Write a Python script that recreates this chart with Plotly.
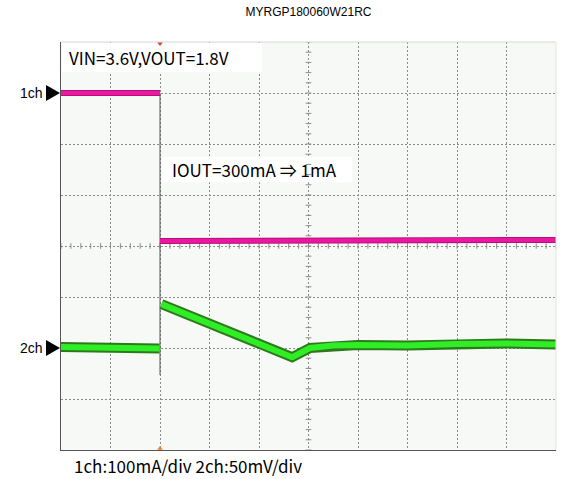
import plotly.graph_objects as go

# Screen is 10 horizontal x 8 vertical divisions; levels below are in divisions.
X_DIVS = 10
Y_DIVS = 8
EDGE_X = 2.0  # load step position (div)

# ch1: output current (100 mA/div), before and after the step
ch1_x = [0.0, 1.0, 2.0, None, 2.0, 4.0, 6.0, 8.0, 10.0]
ch1_y = [7.0, 7.0, 7.0, None, 4.10, 4.10, 4.11, 4.12, 4.12]

# ch2: output voltage ripple (50 mV/div)
ch2_x = [0.0, 1.0, 1.99, None, 2.03, 2.5, 3.0, 3.5, 4.0, 4.35, 4.67, 5.03, 5.5, 6.0, 7.0, 8.0, 9.0, 10.0]
ch2_y = [2.02, 2.01, 1.99, None, 2.86, 2.67, 2.47, 2.28, 2.08, 1.95, 1.82, 2.00, 2.05, 2.06, 2.05, 2.08, 2.09, 2.07]

# thin vertical edge drawn at the step
edge_y = [7.0, 1.47]

ch1_ref = 7.0
ch2_ref = 2.0

title = "MYRGP180060W21RC"
cond_text = "VIN=3.6V,VOUT=1.8V"
step_text = "IOUT=300mA ⇒ 1mA"
scale_text = "1ch:100mA/div 2ch:50mV/div"

label_font = "Noto Sans CJK JP"

fig = go.Figure()

# small ticks along the centre cross-hair
cx = [X_DIVS / 2] * (Y_DIVS * 5 + 1)
cy = [i * 0.2 for i in range(Y_DIVS * 5 + 1)]
fig.add_trace(go.Scatter(x=cx, y=cy, mode="markers", hoverinfo="skip",
                         marker=dict(symbol="line-ew", size=4, line=dict(width=1, color="#8a8a8a"))))
hx = [i * 0.2 for i in range(X_DIVS * 5 + 1)]
hy = [Y_DIVS / 2] * len(hx)
fig.add_trace(go.Scatter(x=hx, y=hy, mode="markers", hoverinfo="skip",
                         marker=dict(symbol="line-ns", size=4, line=dict(width=1, color="#8a8a8a"))))

# step edge
fig.add_trace(go.Scatter(x=[EDGE_X, EDGE_X], y=edge_y, mode="lines",
                         line=dict(color="#555555", width=1), hoverinfo="skip"))

# ch2 trace: dark rim + bright core
fig.add_trace(go.Scatter(x=ch2_x, y=ch2_y, mode="lines",
                         line=dict(color="#2c7a1c", width=10), hoverinfo="skip"))
fig.add_trace(go.Scatter(x=ch2_x, y=ch2_y, mode="lines",
                         line=dict(color="#30ee26", width=6), hoverinfo="skip"))

# ch1 trace
fig.add_trace(go.Scatter(x=ch1_x, y=ch1_y, mode="lines",
                         line=dict(color="#b4107c", width=6), hoverinfo="skip"))
fig.add_trace(go.Scatter(x=ch1_x, y=ch1_y, mode="lines",
                         line=dict(color="#ec17a0", width=4), hoverinfo="skip"))

# trigger markers top and bottom
fig.add_trace(go.Scatter(x=[EDGE_X], y=[Y_DIVS - 0.03], mode="markers",
                         marker=dict(symbol="triangle-down", size=5, color="#e04020"),
                         cliponaxis=False, hoverinfo="skip"))
fig.add_trace(go.Scatter(x=[EDGE_X], y=[0.03], mode="markers",
                         marker=dict(symbol="triangle-up", size=5, color="#f08030"),
                         cliponaxis=False, hoverinfo="skip"))

shapes = [
    # label backgrounds
    dict(type="rect", xref="x", yref="y", x0=0.02, x1=4.06, y0=7.41, y1=7.98,
         fillcolor="white", line=dict(width=0), layer="between"),
    dict(type="rect", xref="x", yref="y", x0=2.03, x1=5.88, y0=5.25, y1=5.75,
         fillcolor="white", line=dict(width=0), layer="between"),
    # top and right frame edges
    dict(type="line", xref="paper", yref="paper", x0=0, x1=1, y0=1, y1=1,
         line=dict(color="#d8d8d8", width=1)),
    dict(type="line", xref="paper", yref="paper", x0=1, x1=1, y0=0, y1=1,
         line=dict(color="#e4e4e4", width=1)),
]

# channel reference arrows just left of the screen
for ref in (ch1_ref, ch2_ref):
    shapes.append(dict(type="path", xref="paper", yref="paper",
                       xsizemode="pixel", xanchor=0, ysizemode="pixel", yanchor=ref / Y_DIVS,
                       path="M-15,8 L-1,0 L-15,-8 Z",
                       fillcolor="black", line=dict(width=0)))

annotations = [
    dict(text=cond_text, x=0.13, y=7.7, xref="x", yref="y", xanchor="left", yanchor="middle",
         showarrow=False, font=dict(family=label_font, size=17, color="black")),
    dict(text=step_text, x=2.2, y=5.5, xref="x", yref="y", xanchor="left", yanchor="middle",
         showarrow=False, font=dict(family=label_font, size=17, color="black")),
    dict(text=scale_text, x=11 / 495, y=-15 / 408, xref="paper", yref="paper",
         xanchor="left", yanchor="middle",
         showarrow=False, font=dict(family=label_font, size=17, color="black")),
    dict(text="1ch", x=-16 / 495, y=ch1_ref / Y_DIVS, xref="paper", yref="paper",
         xanchor="right", yanchor="middle",
         showarrow=False, font=dict(family="Arial", size=14, color="black")),
    dict(text="2ch", x=-16 / 495, y=ch2_ref / Y_DIVS, xref="paper", yref="paper",
         xanchor="right", yanchor="middle",
         showarrow=False, font=dict(family="Arial", size=14, color="black")),
]

fig.update_layout(
    width=563, height=479,
    margin=dict(l=61, r=7, t=42, b=29),
    paper_bgcolor="white",
    plot_bgcolor="#f7f9f7",
    showlegend=False,
    title=dict(text=title, x=0.5, xref="paper", y=0.975, yref="container",
               xanchor="center", yanchor="middle",
               font=dict(family="Arial", size=12, color="black")),
    shapes=shapes,
    annotations=annotations,
    xaxis=dict(range=[0, X_DIVS], dtick=1, tick0=0, showticklabels=False, ticks="",
               showgrid=True, gridcolor="#8c8c8c", griddash="2px,2px", gridwidth=1,
               zeroline=False, showline=True, linecolor="#555555", linewidth=1, fixedrange=True),
    yaxis=dict(range=[0, Y_DIVS], dtick=1, tick0=0, showticklabels=False, ticks="",
               showgrid=True, gridcolor="#8c8c8c", griddash="2px,2px", gridwidth=1,
               zeroline=False, showline=True, linecolor="#555555", linewidth=1, fixedrange=True),
)

fig.write_html("out.html")
